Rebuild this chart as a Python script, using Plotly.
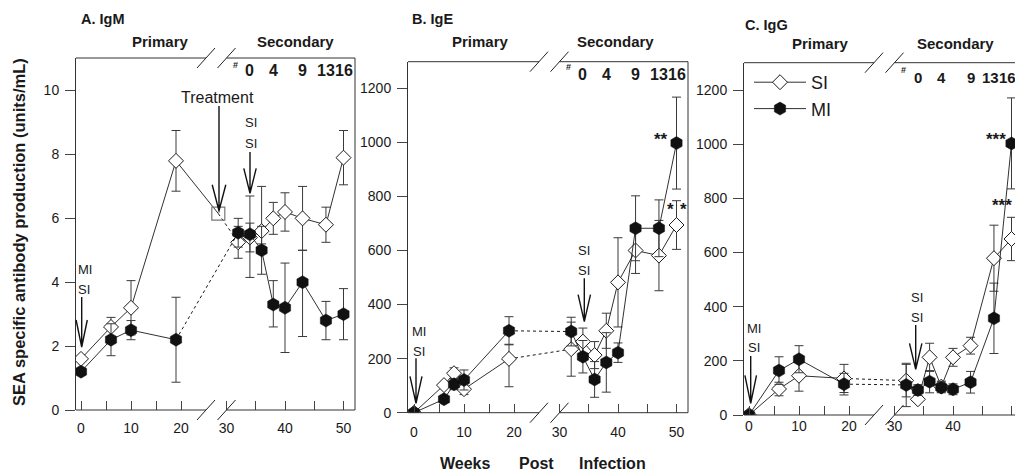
import plotly.graph_objects as go

W, H = 1015, 472

# ---------------- data (weeks post infection) ----------------
# Panel A: IgM (units/mL)
A_pri_weeks = [0, 6, 10, 19]
A_sec_weeks = [32, 34, 36, 38, 40, 43, 47, 50]
A_SI_pri = [1.6, 2.6, 3.2, 7.8]
A_SI_pri_up = [0, 0.3, 0.85, 0.95]
A_SI_pri_dn = [0, 0.3, 0.85, 0.95]
A_MI_pri = [1.2, 2.2, 2.5, 2.2]
A_MI_pri_up = [0, 0.5, 0.3, 1.33]
A_MI_pri_dn = [0, 0.5, 0.3, 1.33]
A_SI_sec = [5.25, 5.4, 5.6, 6.0, 6.2, 6.0, 5.8, 7.9]
A_SI_sec_up = [0.5, 0.45, 1.4, 0.5, 0.6, 1.0, 0.55, 0.85]
A_SI_sec_dn = [0.5, 0.45, 0.4, 0.5, 0.6, 1.0, 0.55, 0.85]
A_MI_sec = [5.55, 5.5, 5.0, 3.3, 3.2, 4.0, 2.8, 3.0]
A_MI_sec_up = [0.45, 1.2, 0.75, 0.75, 1.4, 1.0, 0.6, 0.8]
A_MI_sec_dn = [0.45, 1.35, 0.75, 0.7, 1.4, 1.7, 0.6, 0.8]
A_treat_week = [28]
A_treat_val = [6.15]

# Panel B: IgE
B_pri_weeks = [0, 6, 8, 10, 19]
B_sec_weeks = [32, 34, 36, 38, 40, 43, 47, 50]
B_SI_pri = [0, 102, 146, 87, 199]
B_SI_pri_up = [0, 0, 20, 20, 54]
B_SI_pri_dn = [0, 0, 20, 20, 103]
B_MI_pri = [0, 50, 105, 121, 303]
B_MI_pri_up = [0, 0, 20, 37, 52]
B_MI_pri_dn = [0, 0, 20, 37, 52]
B_SI_sec = [235, 263, 213, 303, 482, 600, 581, 694]
B_SI_sec_up = [100, 50, 50, 65, 165, 85, 130, 90]
B_SI_sec_dn = [100, 50, 50, 65, 165, 85, 130, 90]
B_MI_sec = [300, 207, 123, 186, 222, 682, 682, 997]
B_MI_sec_up = [53, 60, 66, 110, 36, 120, 105, 170]
B_MI_sec_dn = [53, 60, 66, 110, 36, 120, 105, 170]

# Panel C: IgG
C_pri_weeks = [0, 6, 10, 19]
C_sec_weeks = [32, 34, 36, 38, 40, 43, 47, 50]
C_SI_pri = [0, 96, 145, 135]
C_SI_pri_up = [0, 25, 57, 52]
C_SI_pri_dn = [0, 25, 57, 52]
C_MI_pri = [0, 164, 206, 114]
C_MI_pri_up = [0, 51, 50, 40]
C_MI_pri_dn = [0, 51, 50, 40]
C_SI_sec = [127, 58, 213, 105, 213, 256, 579, 650]
C_SI_sec_up = [60, 0, 52, 20, 33, 31, 122, 80]
C_SI_sec_dn = [60, 0, 52, 20, 33, 31, 122, 80]
C_MI_sec = [111, 92, 123, 102, 95, 121, 357, 1003]
C_MI_sec_up = [80, 20, 41, 20, 20, 40, 130, 168]
C_MI_sec_dn = [80, 20, 41, 20, 20, 40, 130, 168]

# tick labels
X_TICK_WEEKS = [0, 5, 10, 15, 20, 30, 35, 40, 45, 50]
X_TICK_TEXT = ['0', '', '10', '', '20', '30', '', '40', '', '50']
A_Y_TICKS = [0, 2, 4, 6, 8, 10]
BC_Y_TICKS = [0, 200, 400, 600, 800, 1000, 1200]
SEC_WEEK_LABELS = ['0', '4', '9', '13', '16']
SEC_WEEK_VALUES = [0, 4, 9, 13, 16]
SEC_START = 34   # secondary week 0 in weeks post (primary) infection


# broken-axis scale: primary segment 1:1, secondary segment slightly stretched
def u(w):
    if w <= 25:
        return w
    if w >= 30:
        return 29.1 + 1.17 * (w - 30)
    return 25 + 0.82 * (w - 25)


BREAK_U = (25.0, 29.1)

NARROW = 'Liberation Sans Narrow, Arial Narrow, Liberation Sans, Arial'
SANS = 'Liberation Sans, Arial, Helvetica'
INK = '#1a1a1a'
ERRC = '#3a3a3a'


def px(x):
    return x / W


def py(y):
    return 1 - y / H


def P(x, y):
    return f'{px(x):.5f},{py(y):.5f}'


fig = go.Figure()

panels = [
    dict(key='A', n='', xdom=(76, 355), ydom=(58, 410), xr=(-1.0, 54.8), yr=(0, 11.02), yt=A_Y_TICKS,
         pw=A_pri_weeks, sw=A_sec_weeks,
         si_p=(A_SI_pri, A_SI_pri_up, A_SI_pri_dn), mi_p=(A_MI_pri, A_MI_pri_up, A_MI_pri_dn),
         si_s=(A_SI_sec, A_SI_sec_up, A_SI_sec_dn), mi_s=(A_MI_sec, A_MI_sec_up, A_MI_sec_dn),
         right=True, standoff=8, legend=True),
    dict(key='B', n='2', xdom=(408, 688), ydom=(61.7, 412.7), xr=(-1.2, 54.8), yr=(0, 1298), yt=BC_Y_TICKS,
         pw=B_pri_weeks, sw=B_sec_weeks,
         si_p=(B_SI_pri, B_SI_pri_up, B_SI_pri_dn), mi_p=(B_MI_pri, B_MI_pri_up, B_MI_pri_dn),
         si_s=(B_SI_sec, B_SI_sec_up, B_SI_sec_dn), mi_s=(B_MI_sec, B_MI_sec_up, B_MI_sec_dn),
         right=True, standoff=9, legend=False),
    dict(key='C', n='3', xdom=(744, 1015), ydom=(62.7, 415), xr=(-1.0, 53.2), yr=(0, 1301), yt=BC_Y_TICKS,
         pw=C_pri_weeks, sw=C_sec_weeks,
         si_p=(C_SI_pri, C_SI_pri_up, C_SI_pri_dn), mi_p=(C_MI_pri, C_MI_pri_up, C_MI_pri_dn),
         si_s=(C_SI_sec, C_SI_sec_up, C_SI_sec_dn), mi_s=(C_MI_sec, C_MI_sec_up, C_MI_sec_dn),
         right=False, standoff=1, legend=False),
]

SI_MARKER = dict(symbol='diamond', size=11.5, color='white', line=dict(color=INK, width=1))
MI_MARKER = dict(symbol='hexagon', size=13, color='#111', line=dict(color='#111', width=0.5))


def err(up, dn):
    return dict(type='data', symmetric=False, array=up, arrayminus=dn, width=4.5,
                thickness=1, color=ERRC)


shapes = []
layout_axes = {}

for p in panels:
    xa, ya = 'x' + p['n'], 'y' + p['n']
    for name, pri, sec, marker in (('SI', p['si_p'], p['si_s'], SI_MARKER),
                                    ('MI', p['mi_p'], p['mi_s'], MI_MARKER)):
        # bridge across the axis break
        if p['key'] == 'A' and name == 'SI':
            fig.add_trace(go.Scatter(x=[u(p['pw'][-1]), u(A_treat_week[0])], y=[pri[0][-1], A_treat_val[0]],
                                     mode='lines', line=dict(color=INK, width=0.9),
                                     xaxis=xa, yaxis=ya, showlegend=False, hoverinfo='skip'))
            fig.add_trace(go.Scatter(x=[u(A_treat_week[0]), u(p['sw'][0])], y=[A_treat_val[0], sec[0][0]],
                                     mode='lines', line=dict(color=INK, width=1, dash='dot'),
                                     xaxis=xa, yaxis=ya, showlegend=False, hoverinfo='skip'))
        else:
            fig.add_trace(go.Scatter(x=[u(p['pw'][-1]), u(p['sw'][0])], y=[pri[0][-1], sec[0][0]],
                                     mode='lines', line=dict(color=INK, width=1, dash='dot'),
                                     xaxis=xa, yaxis=ya, showlegend=False, hoverinfo='skip'))
        fig.add_trace(go.Scatter(x=[u(w) for w in p['pw']], y=pri[0], error_y=err(pri[1], pri[2]),
                                 mode='lines+markers', line=dict(color=INK, width=0.9), marker=marker,
                                 xaxis=xa, yaxis=ya, showlegend=False, name=name))
        fig.add_trace(go.Scatter(x=[u(w) for w in p['sw']], y=sec[0], error_y=err(sec[1], sec[2]),
                                 mode='lines+markers', line=dict(color=INK, width=0.9), marker=marker,
                                 xaxis=xa, yaxis=ya, showlegend=p['legend'], name=name))
    if p['key'] == 'A':
        fig.add_trace(go.Scatter(x=[u(w) for w in A_treat_week], y=A_treat_val, mode='markers',
                                 marker=dict(symbol='square-open', size=13, color='#777',
                                             line=dict(width=1.2, color='#777')),
                                 xaxis=xa, yaxis=ya, showlegend=False, name='Treatment'))

    xd = (px(p['xdom'][0]), min(1.0, px(p['xdom'][1])))
    yd = (py(p['ydom'][1]), py(p['ydom'][0]))
    layout_axes['xaxis' + p['n']] = dict(
        domain=list(xd), range=list(p['xr']), anchor=ya, automargin=False,
        tickvals=[u(w) for w in X_TICK_WEEKS], ticktext=X_TICK_TEXT,
        ticks='inside', ticklen=9, tickwidth=1, tickcolor='#444',
        showline=False, showgrid=False, zeroline=False,
        tickfont=dict(family=NARROW, size=14, color=INK), ticklabelstandoff=p['standoff'])
    layout_axes['yaxis' + p['n']] = dict(
        domain=list(yd), range=list(p['yr']), anchor=xa, automargin=False,
        tickvals=p['yt'], ticks='outside', ticklen=10, tickwidth=1, tickcolor='#444',
        showline=True, linecolor='#333', linewidth=1, showgrid=False, zeroline=False,
        tickfont=dict(family=NARROW, size=14, color=INK), ticklabelstandoff=3)

    # frame with gaps at the axis break
    for yv in (0, 1):
        for (a, b) in ((p['xr'][0], BREAK_U[0]), (BREAK_U[1], p['xr'][1])):
            shapes.append(dict(type='line', xref=xa, yref=ya + ' domain', x0=a, x1=b, y0=yv, y1=yv,
                               line=dict(color='#333', width=1)))
        for bu in BREAK_U:
            shapes.append(dict(type='path', xref=xa, yref=ya + ' domain', xsizemode='pixel',
                               ysizemode='pixel', xanchor=bu, yanchor=yv, path='M-9,-10L9,10',
                               line=dict(color='#222', width=1)))
    if p['right']:
        shapes.append(dict(type='line', xref=xa + ' domain', yref=ya + ' domain', x0=1, x1=1, y0=0, y1=1,
                           line=dict(color='#333', width=1)))

# ---------------- annotations ----------------
ann = []


def text(x, y, s, size=13, bold=False, xanchor='center', family=SANS, **kw):
    ann.append(dict(x=px(x), y=py(y), xref='paper', yref='paper', text=(f'<b>{s}</b>' if bold else s),
                    showarrow=False, xanchor=xanchor, yanchor='middle',
                    font=dict(family=family, size=size, color=INK), **kw))


# panel titles
text(79, 19, 'A. IgM', 14.5, True, 'left')
text(410, 19.3, 'B. IgE', 14.5, True, 'left')
text(743, 25, 'C. IgG', 14.5, True, 'left')
# primary / secondary headers
for (xp, xs, yy) in ((160.5, 295, 41.7), (480.5, 615.5, 41.7), (820.5, 955.5, 43.3)):
    text(xp, yy, 'Primary', 15, True)
    text(xs, yy, 'Secondary', 15, True)

# secondary week labels (in data coordinates of each panel); panel C is squeezed at the page edge
C_LABEL_SHIFT = {13: -3, 16: -4}
for p, yy, yh in ((panels[0], 70, 65), (panels[1], 74, 67), (panels[2], 77, 70)):
    xa = 'x' + p['n']
    for lab, s in zip(SEC_WEEK_LABELS, SEC_WEEK_VALUES):
        shift = C_LABEL_SHIFT.get(s, 0) if p['key'] == 'C' else 0
        ann.append(dict(x=u(SEC_START + s), y=py(yy), xref=xa, yref='paper', text=f'<b>{lab}</b>',
                        showarrow=False, xanchor='center', yanchor='middle', xshift=shift,
                        font=dict(family=NARROW, size=16 if p['key'] != 'C' else 15, color=INK)))
    ann.append(dict(x=u(SEC_START - 2.5), y=py(yh), xref=xa, yref='paper', text='<b>#</b>',
                    showarrow=False, xanchor='center', yanchor='middle',
                    font=dict(family=SANS, size=9, color=INK)))

# infection / treatment labels
text(84.5, 269, 'MI', 13); text(84, 289, 'SI', 13)
text(217, 97.7, 'Treatment', 16)
text(250.7, 122.7, 'SI', 13); text(250.7, 143.3, 'SI', 13)
text(419, 331.7, 'MI', 13); text(418.5, 351.7, 'SI', 13)
text(584.3, 250.7, 'SI', 13); text(584.3, 270, 'SI', 13)
text(754, 328.3, 'MI', 13); text(753.5, 347.3, 'SI', 13)
text(917.3, 297.7, 'SI', 13); text(917.3, 317.3, 'SI', 13)

# significance stars
text(660.7, 139, '**', 17, True)
text(670, 210, '*', 17, True)
text(683, 210, '*', 17, True)
text(996, 139, '***', 17, True)
text(1014, 205, '***', 17, True, 'right')

# axis titles
text(18.5, 232.5, 'SEA specific antibody production (units/mL)', 16.5, True, textangle=-90)
text(465, 463, 'Weeks', 16, True)
text(536.5, 463, 'Post', 16, True)
text(612.5, 463, 'Infection', 16, True)

# arrows (line + open V head), pixel positions converted to paper
ARROWS = [
    ((81.7, 297), (81.7, 347), 5.6, 27),
    ((219, 106), (219, 210.7), 6.8, 26),
    ((250, 152), (250, 193.3), 6.2, 25),
    ((416, 358.3), (416, 403.3), 6.0, 27),
    ((584.3, 278.3), (584.3, 321.7), 6.2, 27),
    ((750.7, 356), (750.7, 403.3), 5.8, 28),
    ((915.7, 325), (915.7, 369.3), 6.2, 26),
]
for (x0, y0), (x1, y1), hw, hl in ARROWS:
    path = (f'M{P(x0, y0)}L{P(x1, y1)}'
            f'M{P(x1 - hw, y1 - hl)}L{P(x1, y1)}L{P(x1 + hw, y1 - hl)}')
    shapes.append(dict(type='path', xref='paper', yref='paper', path=path,
                       line=dict(color='#111', width=1.4)))

fig.update_layout(
    width=W, height=H, margin=dict(l=0, r=0, t=0, b=0, autoexpand=False),
    paper_bgcolor='white', plot_bgcolor='white',
    font=dict(family=SANS, color=INK),
    shapes=shapes, annotations=ann,
    showlegend=True,
    legend=dict(x=px(749), y=py(64), xanchor='left', yanchor='top', bgcolor='rgba(0,0,0,0)',
                font=dict(family=SANS, size=18, color=INK), itemwidth=52, tracegroupgap=0,
                borderwidth=0),
    **layout_axes,
)

fig.write_html('out.html', config={'displayModeBar': False},
               post_script="document.body.style.margin='0';document.body.style.overflow='hidden';")
